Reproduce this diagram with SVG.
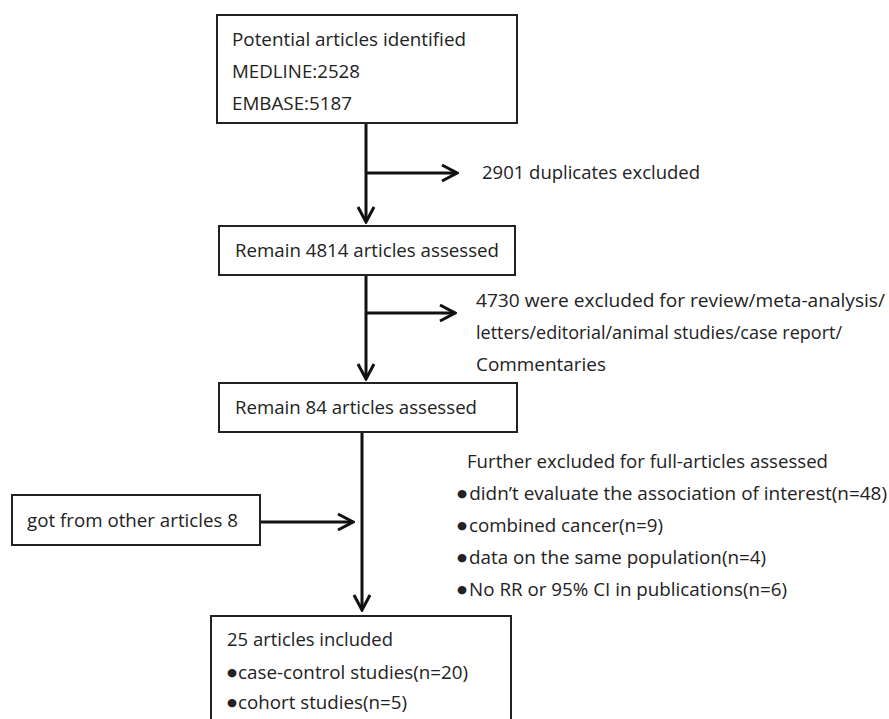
<svg xmlns="http://www.w3.org/2000/svg" width="889" height="719" viewBox="0 0 889 719">
<defs>
<style>
.box{fill:#fff;stroke:#222;stroke-width:2}
.t{font-family:"Open Sans","Liberation Sans",sans-serif;font-size:18px;fill:#222}
.bu{font-family:"DejaVu Sans",sans-serif;font-size:11px}
.ln{stroke:#111;stroke-width:3;fill:none}
</style>
<marker id="ah" markerUnits="userSpaceOnUse" viewBox="-18 -11 20 22" refX="0" refY="0" markerWidth="20" markerHeight="22" orient="auto">
<path d="M-15,-8 L0,0 L-15,8" fill="none" stroke="#111" stroke-width="3" stroke-linejoin="miter"/>
</marker>
</defs>
<rect width="889" height="719" fill="#fff"/>
<g id="connectors">
<line class="ln" x1="366" y1="123" x2="366" y2="222" marker-end="url(#ah)"/>
<line class="ln" x1="366" y1="173" x2="457" y2="173" marker-end="url(#ah)"/>
<line class="ln" x1="366" y1="275" x2="366" y2="379" marker-end="url(#ah)"/>
<line class="ln" x1="366" y1="313" x2="455" y2="313" marker-end="url(#ah)"/>
<line class="ln" x1="362" y1="432" x2="362" y2="610" marker-end="url(#ah)"/>
<line class="ln" x1="260" y1="522" x2="353" y2="522" marker-end="url(#ah)"/>
</g>
<g id="identified">
<rect class="box" x="217" y="15" width="300" height="108"/>
<text class="t" x="232" y="46" textLength="234" lengthAdjust="spacingAndGlyphs">Potential articles identified</text>
<text class="t" x="232" y="78" textLength="128" lengthAdjust="spacingAndGlyphs">MEDLINE:2528</text>
<text class="t" x="232" y="110" textLength="120" lengthAdjust="spacingAndGlyphs">EMBASE:5187</text>
</g>
<g id="duplicates">
<text class="t" x="482" y="179" textLength="218" lengthAdjust="spacingAndGlyphs">2901 duplicates excluded</text>
</g>
<g id="remain4814">
<rect class="box" x="219" y="226" width="296" height="49"/>
<text class="t" x="235" y="257" textLength="264" lengthAdjust="spacingAndGlyphs">Remain 4814 articles assessed</text>
</g>
<g id="excluded4730">
<text class="t" x="476" y="307" textLength="409" lengthAdjust="spacingAndGlyphs">4730 were excluded for review/meta-analysis/</text>
<text class="t" x="476" y="339" textLength="366" lengthAdjust="spacingAndGlyphs">letters/editorial/animal studies/case report/</text>
<text class="t" x="476" y="371" textLength="130" lengthAdjust="spacingAndGlyphs">Commentaries</text>
</g>
<g id="remain84">
<rect class="box" x="219" y="383" width="298" height="49"/>
<text class="t" x="235" y="414" textLength="242" lengthAdjust="spacingAndGlyphs">Remain 84 articles assessed</text>
</g>
<g id="further">
<text class="t" x="467" y="468" textLength="361" lengthAdjust="spacingAndGlyphs">Further excluded for full-articles assessed</text>
<text class="t" x="457" y="500" textLength="430" lengthAdjust="spacingAndGlyphs"><tspan class="bu" dy="-3">●</tspan><tspan dx="2" dy="3">didn’t evaluate the association of interest(n=48)</tspan></text>
<text class="t" x="457" y="532" textLength="206" lengthAdjust="spacingAndGlyphs"><tspan class="bu" dy="-3">●</tspan><tspan dx="2" dy="3">combined cancer(n=9)</tspan></text>
<text class="t" x="457" y="564" textLength="309" lengthAdjust="spacingAndGlyphs"><tspan class="bu" dy="-3">●</tspan><tspan dx="2" dy="3">data on the same population(n=4)</tspan></text>
<text class="t" x="457" y="596" textLength="330" lengthAdjust="spacingAndGlyphs"><tspan class="bu" dy="-3">●</tspan><tspan dx="2" dy="3">No RR or 95% CI in publications(n=6)</tspan></text>
</g>
<g id="other">
<rect class="box" x="12" y="495" width="248" height="50"/>
<text class="t" x="27" y="527" textLength="211" lengthAdjust="spacingAndGlyphs">got from other articles 8</text>
</g>
<g id="included">
<rect class="box" x="211" y="616" width="300" height="120"/>
<text class="t" x="227" y="646" textLength="166" lengthAdjust="spacingAndGlyphs">25 articles included</text>
<text class="t" x="227" y="679" textLength="241" lengthAdjust="spacingAndGlyphs"><tspan class="bu" dy="-3">●</tspan><tspan dx="1" dy="3">case-control studies(n=20)</tspan></text>
<text class="t" x="227" y="709" textLength="180" lengthAdjust="spacingAndGlyphs"><tspan class="bu" dy="-3">●</tspan><tspan dx="1" dy="3">cohort studies(n=5)</tspan></text>
</g>
</svg>
